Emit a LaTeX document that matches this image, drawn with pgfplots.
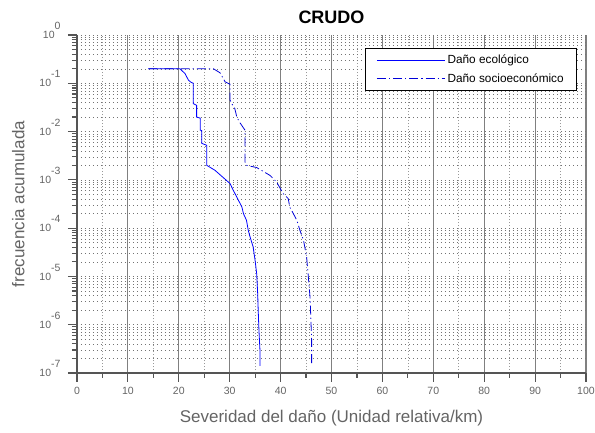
\documentclass[border=0pt]{standalone}
\usepackage{fontspec}
\setmainfont{Liberation Sans}
\usepackage{pgfplots}
\pgfplotsset{compat=1.18}
\definecolor{axgray}{RGB}{85,85,85}
\definecolor{txtgray}{RGB}{100,100,100}
\newcommand\ex[1]{10\smash{\raisebox{0.85em}{#1}}}
\begin{document}
\begin{tikzpicture}
\begin{axis}[
  scale only axis, width=509pt, height=338pt,
  ymode=log, xmin=0, xmax=100, ymin=1e-7, ymax=1,
  axis lines*=left,
  axis line style={line width=2.2pt, axgray},
  xtick={0,10,...,100}, minor x tick num=1,
  ytick={1e-7,1e-6,1e-5,1e-4,1e-3,1e-2,1e-1,1},
  yticklabels={\ex{-7},\ex{-6},\ex{-5},\ex{-4},\ex{-3},\ex{-2},\ex{-1},\ex{0}},
  tick align=outside,
  major tick length=9pt, minor tick length=5pt,
  tick style={line width=1.1pt, axgray},
  grid=both,
  major x grid style={line width=1.1pt, color=black!50, solid},
  minor x grid style={line width=0.6pt, color=black!40, dash pattern=on 0.8pt off 2.2pt},
  major y grid style={line width=0.5pt, color=black!55, dash pattern=on 0.8pt off 3.2pt},
  minor y grid style={line width=0.5pt, color=black!55, dash pattern=on 0.8pt off 3.2pt},
  /pgf/number format/assume math mode=true,
  tick label style={font=\fontsize{10.5}{12}\selectfont, txtgray},
  xticklabel style={yshift=-2pt},
  yticklabel style={xshift=-4pt},
  xlabel={Severidad del daño (Unidad relativa/km)},
  ylabel={frecuencia acumulada},
  label style={font=\fontsize{17}{20}\selectfont, txtgray},
  xlabel style={yshift=-8pt},
  ylabel style={yshift=8pt},
  title={CRUDO},
  title style={font=\fontsize{18}{21}\selectfont\bfseries, yshift=2pt},
  legend style={at={(1,1)}, anchor=north east, xshift=-9pt, yshift=-13pt,
    draw=black, line width=0.6pt, fill=white,
    font=\fontsize{11.8}{14}\selectfont, row sep=4pt,
    inner xsep=11pt, inner ysep=5pt},
  legend cell align=left,
  legend image post style={xscale=4.0},
]
\addplot[blue, line width=0.8pt] coordinates {
(14.0,0.2) (20.2,0.2) (21.2,0.16) (21.9,0.116) (22.4,0.105)
(22.85,0.1) (22.85,0.038) (23.5,0.035) (23.5,0.020) (24.2,0.019)
(24.2,0.0107) (24.5,0.0105) (24.5,0.0057) (25.5,0.0052) (25.5,0.002)
(27.1,0.00158) (30.06,8.4e-4) (30.7,6.1e-4) (31.7,3.8e-4) (32.4,2.74e-4)
(32.7,2.0e-4) (33.3,1.45e-4) (33.65,9e-5) (34.0,6.6e-5) (34.6,4.1e-5)
(35.0,2.1e-5) (35.3,1.14e-5) (35.5,4.4e-6) (35.6,2e-6) (35.75,7.6e-7)
(35.95,2.9e-7) (35.95,1.4e-7)
};
\addlegendentry{Daño ecológico}
\addplot[blue!85!black, line width=0.8pt, dash pattern=on 9pt off 3pt on 1.2pt off 3pt] coordinates {
(14.0,0.2) (26.8,0.2) (28.1,0.165) (29.1,0.107) (30.06,0.096)
(30.06,0.045) (30.4,0.038) (31.0,0.030) (31.4,0.020) (31.9,0.0159)
(33.0,0.0107) (33.0,0.00235) (33.3,0.002) (35.3,0.0018) (37.9,0.00124)
(39.2,9.1e-4) (40.5,5.2e-4) (41.5,4.1e-4) (41.8,2.74e-4) (42.5,2e-4)
(43.2,1.45e-4) (43.8,9e-5) (44.5,5.6e-5) (45.1,2.6e-5) (45.4,1.14e-5)
(45.8,3.5e-6) (46.1,4.7e-7) (46.1,1.4e-7)
};
\addlegendentry{Daño socioeconómico}
\end{axis}
\pgfresetboundingbox
\path (-77pt,-59pt) rectangle (518pt,373pt);
\end{tikzpicture}
\end{document}
